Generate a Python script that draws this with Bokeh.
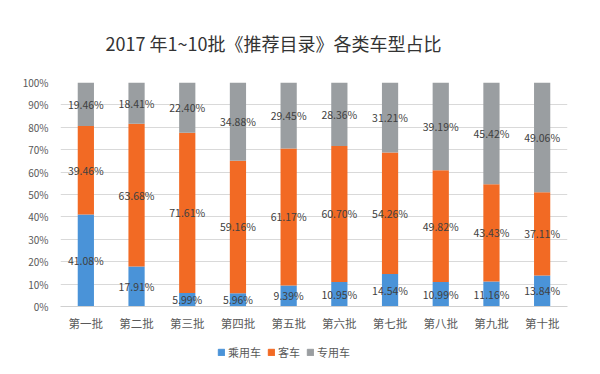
from bokeh.plotting import figure
from bokeh.layouts import column
from bokeh.models import ColumnDataSource, LabelSet, Legend, LegendItem, NumeralTickFormatter, FixedTicker, Title
from bokeh.core.properties import value
from bokeh.embed import file_html
from bokeh.resources import INLINE

categories = ["第一批", "第二批", "第三批", "第四批", "第五批", "第六批", "第七批", "第八批", "第九批", "第十批"]
passenger = [41.08, 17.91, 5.99, 5.96, 9.39, 10.95, 14.54, 10.99, 11.16, 13.84]
bus = [39.46, 63.68, 71.61, 59.16, 61.17, 60.70, 54.26, 49.82, 43.43, 37.11]
special = [19.46, 18.41, 22.40, 34.88, 29.45, 28.36, 31.21, 39.19, 45.42, 49.06]
series_names = ["乘用车", "客车", "专用车"]
colors = ["#4A93D8", "#F26A24", "#9A9EA1"]

FONT = "Noto Sans CJK SC"

data = {"cat": categories, "乘用车": [v / 100 for v in passenger],
        "客车": [v / 100 for v in bus], "专用车": [v / 100 for v in special]}
source = ColumnDataSource(data)

p = figure(x_range=categories, y_range=(0, 1), width=584, height=334,
           output_backend="svg", toolbar_location=None,
           min_border_left=60, min_border_right=17, min_border_top=82, min_border_bottom=28)

renderers = p.vbar_stack(series_names, x="cat", width=0.32, color=colors, source=source, line_color=None)

# labels
for vals, lower in [(passenger, [0] * 10),
                    (bus, passenger),
                    (special, [a + b for a, b in zip(passenger, bus)])]:
    ys = [(lo + v / 2) / 100 for lo, v in zip(lower, vals)]
    txt = ["%.2f%%" % v for v in vals]
    ls = LabelSet(x="cat", y="y", text="t", source=ColumnDataSource(dict(cat=categories, y=ys, t=txt)),
                  text_align="center", text_baseline="middle", text_font_size="10.5px",
                  text_color="#404040", text_font=value(FONT))
    p.add_layout(ls)

p.title = Title(text="2017 年1~10批《推荐目录》各类车型占比", text_font=FONT, text_font_size="18px",
                text_font_style="normal", text_color="#333333", offset=45, standoff=53)

p.yaxis.ticker = FixedTicker(ticks=[i / 10 for i in range(11)])
p.yaxis.formatter = NumeralTickFormatter(format="0%")
p.yaxis.axis_line_color = None
p.yaxis.major_tick_line_color = None
p.yaxis.minor_tick_line_color = None
p.yaxis.major_label_text_font_size = "10px"
p.yaxis.major_label_text_color = "#595959"
p.yaxis.major_label_text_font = FONT
p.yaxis.major_label_standoff = 6

p.xaxis.axis_line_color = "#d0d0d0"
p.xaxis.major_tick_line_color = None
p.xaxis.minor_tick_line_color = None
p.xaxis.major_label_text_font_size = "11.5px"
p.xaxis.major_label_text_color = "#595959"
p.xaxis.major_label_text_font = FONT
p.xaxis.major_label_standoff = 2

p.xgrid.grid_line_color = None
p.ygrid.grid_line_color = "#d9d9d9"
p.outline_line_color = None
p.x_range.range_padding = 0

# legend strip below the chart (its swatches sit outside its visible range)
lp = figure(width=584, height=32, x_range=(0, 1), y_range=(0, 1),
            output_backend="svg", toolbar_location=None,
            min_border_left=0, min_border_right=0, min_border_top=0, min_border_bottom=0)
lp.axis.visible = False
lp.grid.grid_line_color = None
lp.outline_line_color = None
legend_renderers = [lp.vbar(x=[-5], top=[0], width=0.1, color=c) for c in colors]
legend = Legend(items=[LegendItem(label=n, renderers=[r]) for n, r in zip(series_names, legend_renderers)],
                orientation="horizontal", location=(157, 6), label_text_font_size="11px",
                label_text_font=FONT, label_text_color="#595959", glyph_width=8, glyph_height=8,
                spacing=6, label_standoff=3, border_line_color=None, background_fill_alpha=0,
                padding=0, margin=0)
lp.add_layout(legend)

layout = column(p, lp, spacing=0)
open("out.html", "w").write(file_html(layout, INLINE))
